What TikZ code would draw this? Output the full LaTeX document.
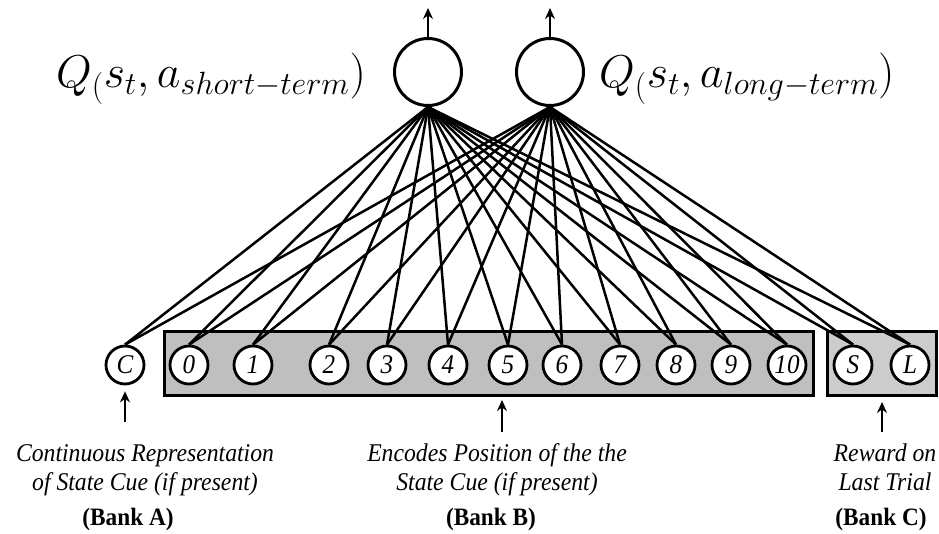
\RequirePackage{fix-cm}
\documentclass[tikz,border=0pt]{standalone}
\usepackage[no-math]{fontspec}
\usepackage{amsmath}
\usetikzlibrary{positioning,arrows.meta,calc}
\newfontfamily\timesfont[FakeStretch=0.93]{Liberation Serif}
\tikzset{
  >={Stealth[length=11pt,width=10pt]},
  unit/.style={circle,draw,fill=white,line width=2.8pt,minimum size=38pt,inner sep=0pt,
    font=\timesfont\itshape\fontsize{27}{27}\selectfont},
  outunit/.style={circle,draw,fill=white,line width=3pt,minimum size=67pt},
  bankbox/.style={draw,line width=3pt,inner sep=0pt,minimum height=64pt},
  conn/.style={line width=2.5pt},
  inarrow/.style={->,line width=1.4pt},
  qlabel/.style={font=\fontsize{46}{54}\selectfont,inner sep=0pt},
  caption/.style={align=center,inner sep=0pt,font=\timesfont\itshape\fontsize{25.5}{29}\selectfont},
  bankname/.style={inner sep=0pt,font=\timesfont\bfseries\fontsize{25}{29}\selectfont},
}

\begin{document}
\begin{tikzpicture}[x=1pt,y=-1pt,on grid]
\useasboundingbox (0,0) rectangle (939,534);

% the two banks behind the input units
\node[bankbox,fill=gray!50,minimum width=649pt] (bankB) at (489,363.5) {};
\node[bankbox,fill=gray!40,minimum width=109pt] (bankC) at (882,363.5) {};

% output units
\node[outunit] (qs) at (428,72) {};
\node[outunit] (ql) at (550,72) {};
\node[qlabel,anchor=base east] (qslab) at (366,88) {$Q_(s_t, a_{short-term})$};
\node[qlabel,anchor=base west] (qllab) at (599,88) {$Q_(s_t, a_{long-term})$};

% input units
\node[unit] (c) at (125,365) {C};
\node[unit,right=64pt of c] (n0) {0};
\node[unit,right=64pt of n0] (n1) {1};
\node[unit,right=76pt of n1] (n2) {2};
\node[unit,right=58pt of n2] (n3) {3};
\node[unit,right=61pt of n3] (n4) {4};
\node[unit,right=60pt of n4] (n5) {5};
\node[unit,right=54pt of n5] (n6) {6};
\node[unit,right=58pt of n6] (n7) {7};
\node[unit,right=56pt of n7] (n8) {8};
\node[unit,right=55pt of n8] (n9) {9};
\node[unit,right=56pt of n9] (n10) {10};
\node[unit,right=66pt of n10] (s) {S};
\node[unit,right=57pt of s] (l) {L};

\path[conn]
(c.north) edge (qs.south) edge (ql.south)
(n0.north) edge (qs.south) edge (ql.south)
(n1.north) edge (qs.south) edge (ql.south)
(n2.north) edge (qs.south) edge (ql.south)
(n3.north) edge (qs.south) edge (ql.south)
(n4.north) edge (qs.south) edge (ql.south)
(n5.north) edge (qs.south) edge (ql.south)
(n6.north) edge (qs.south) edge (ql.south)
(n7.north) edge (qs.south) edge (ql.south)
(n8.north) edge (qs.south) edge (ql.south)
(n9.north) edge (qs.south) edge (ql.south)
(n10.north) edge (qs.south) edge (ql.south)
(s.north) edge (qs.south) edge (ql.south)
(l.north) edge (qs.south) edge (ql.south);

% outputs and inputs
\coordinate (qsout) at (428,8);
\coordinate (qlout) at (550,8);
\draw[inarrow] (qs.north) -- (qsout);
\draw[inarrow] (ql.north) -- (qlout);

\coordinate (inA) at (125,422);
\coordinate (inB) at (502,432);
\coordinate (inC) at (882,432);
\draw[inarrow] (inA) -- ([yshift=-6pt]c.south);
\draw[inarrow] (inB) -- (inB |- 0,400);
\draw[inarrow] (inC) -- (inC |- 0,402);

% captions
\node[caption,anchor=base] (capA) at (145,490) {Continuous Representation\\of State Cue (if present)};
\node[caption,anchor=base] (capB) at (497,490) {Encodes Position of the the\\State Cue (if present)};
\node[caption,anchor=base] (capC) at (885,490) {Reward on\\Last Trial};
\node[bankname,anchor=base] (nameA) at (128,525) {(Bank A)};
\node[bankname,anchor=base] (nameB) at (491,525) {(Bank B)};
\node[bankname,anchor=base] (nameC) at (881,525) {(Bank C)};
\end{tikzpicture}
\end{document}
